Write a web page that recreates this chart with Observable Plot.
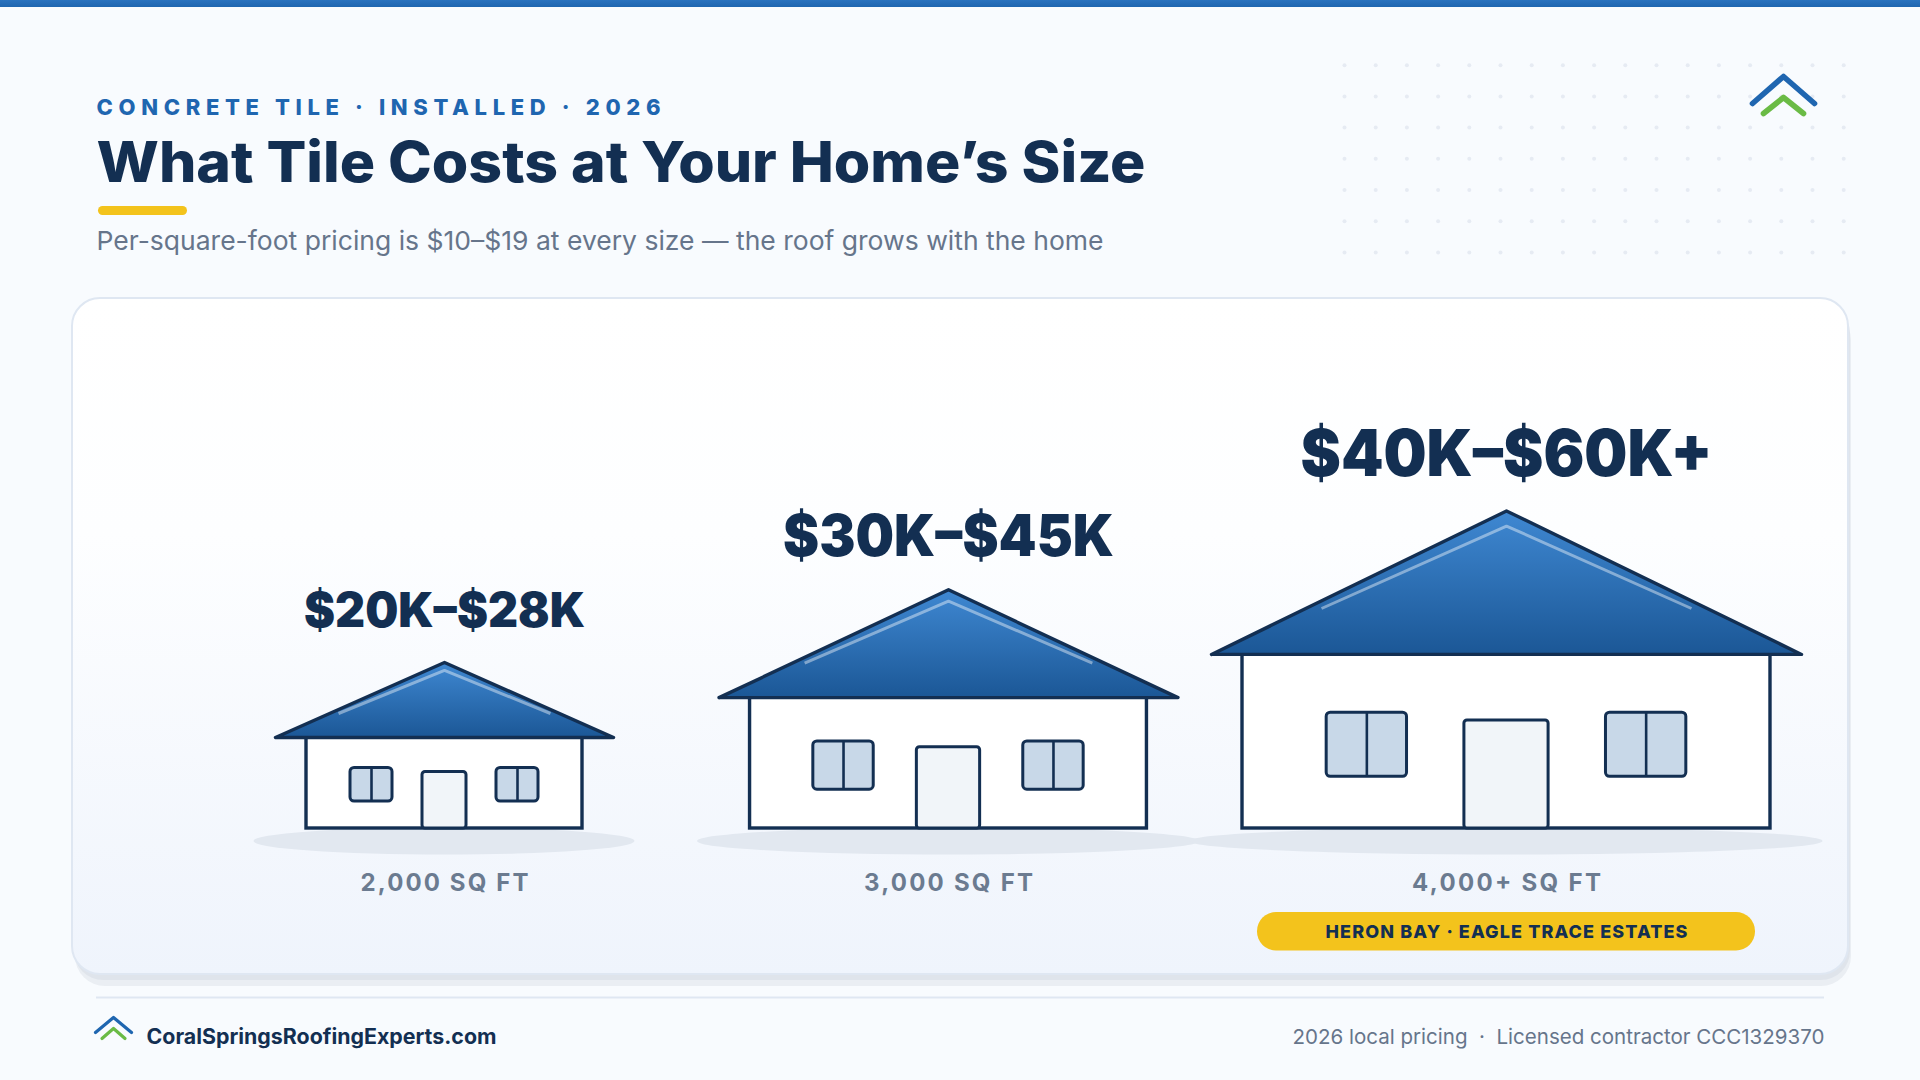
<!DOCTYPE html>
<html>
<head>
<meta charset="utf-8">
<script src="https://cdn.jsdelivr.net/npm/d3@7"></script>
<script src="https://cdn.jsdelivr.net/npm/@observablehq/plot@0.6"></script>
<style>html,body{margin:0;padding:0;background:#f8fbfe;overflow:hidden}svg{display:block}</style>
</head>
<body>
<div id="chart"></div>
<script>
// ---- Chart content ----
const sqft = [2000, 3000, 4000];
const priceLabels = ["$20K–$28K", "$30K–$45K", "$40K–$60K+"];
const sizeLabels = ["2,000 SQ FT", "3,000 SQ FT", "4,000+ SQ FT"];
const eyebrow = "CONCRETE TILE · INSTALLED · 2026";
const title = "What Tile Costs at Your Home’s Size";
const subtitle = "Per-square-foot pricing is $10–$19 at every size — the roof grows with the home";
const pillText = "HERON BAY · EAGLE TRACE ESTATES";
const footerSite = "CoralSpringsRoofingExperts.com";
const footerNote = "2026 local pricing  ·  Licensed contractor CCC1329370";

// ---- Layout and style (kept apart from the content) ----
const FONT = "Inter, sans-serif";
const NAVY = "#132f52", BLUE = "#1f66b0", GREEN = "#6abb45", GOLD = "#f3c31c", GREY = "#66758b";
const houseScale = d3.scaleLinear(sqft, [1, 1.438, 1.913]);
const houseCenter = d3.scaleLinear(sqft, [444, 948, 1506]);
const GROUND = 828;
const priceStyle = [
  {size: 48, base: 626, len: 281},
  {size: 58, base: 555.5, len: 331},
  {size: 64, base: 475, len: 412}
];
const sizeLabelLen = [168, 169, 189];

const houses = sqft.map((v, i) => {
  const s = houseScale(v), cx = houseCenter(v);
  const eave = GROUND - 91 * s, apex = eave - 75 * s, half = 138 * s, over = half + 31;
  return {i, s, cx, eave, apex, half, over,
    hx: over * 0.627, hTop: apex + 75 * s * 0.105, hBot: apex + 75 * s * 0.68};
});
const walls = houses.map(h => ({x1: h.cx - h.half, x2: h.cx + h.half, y1: h.eave, y2: GROUND}));
const doors = houses.map(h => ({x1: h.cx - 22 * h.s, x2: h.cx + 22 * h.s, y1: GROUND - 56.5 * h.s, y2: GROUND}));
const windows = houses.flatMap(h => [-94, 52].map(o => ({
  x1: h.cx + o * h.s, x2: h.cx + (o + 42) * h.s, y1: GROUND - 60.5 * h.s, y2: GROUND - 27 * h.s
})));
const mullions = windows.flatMap((w, i) => [
  {k: i, x: (w.x1 + w.x2) / 2, y: w.y1}, {k: i, x: (w.x1 + w.x2) / 2, y: w.y2}
]);
const roofs = houses.flatMap(h => [
  {k: h.i, x: h.cx - h.over, y: h.eave}, {k: h.i, x: h.cx, y: h.apex},
  {k: h.i, x: h.cx + h.over, y: h.eave}, {k: h.i, x: h.cx - h.over, y: h.eave}
]);
const highlights = houses.flatMap(h => [
  {k: h.i, x: h.cx - h.hx, y: h.hBot}, {k: h.i, x: h.cx, y: h.hTop}, {k: h.i, x: h.cx + h.hx, y: h.hBot}
]);
const grounds = houses.map(h => ({x1: h.cx - h.half - 52.5, x2: h.cx + h.half + 52.5, y1: 827.5, y2: 854.5}));
const gridDots = d3.cross(d3.range(17), d3.range(7)).map(([a, b]) => ({x: 1344 + a * 31.2, y: 64.7 + b * 31.2}));

function chevron(cx, top, halfW, drop) {
  return [{x: cx - halfW, y: top + drop}, {x: cx, y: top}, {x: cx + halfW, y: top + drop}];
}
function gradient(defs, id, stops) {
  const g = defs.append("linearGradient").attr("id", id).attr("x1", 0).attr("x2", 0).attr("y1", 0).attr("y2", 1);
  stops.forEach(([o, c]) => g.append("stop").attr("offset", o).attr("stop-color", c));
}
const defsMark = () => {
  const defs = d3.create("svg:defs");
  gradient(defs, "roofG", [[0, "#3f88d2"], [1, "#1b5796"]]);
  gradient(defs, "cardG", [[0, "#ffffff"], [0.35, "#fdfeff"], [1, "#eff4fc"]]);
  gradient(defs, "barG", [[0, "#2a73bf"], [1, "#1f66b0"]]);
  return defs.node();
};
// Plain text mark; the fitted length keeps each line the width it has in the picture.
function label(text, x, y, o) {
  const {len, adjust = "spacingAndGlyphs", textAnchor = "start", ...rest} = o;
  return Plot.text([{text, x, y}], {
    x: "x", y: "y", text: "text", lineAnchor: "bottom", fontFamily: FONT, textAnchor,
    render: (i, s, v, d, c, next) => {
      const g = next(i, s, v, d, c);
      d3.select(g).selectAll("text").attr("textLength", len).attr("lengthAdjust", adjust).style("white-space", "pre");
      return g;
    },
    ...rest
  });
}
const box = {x1: "x1", x2: "x2", y1: "y1", y2: "y2"};

const plot = Plot.plot({
  width: 1920, height: 1080, margin: 0,
  x: {domain: [0, 1920], range: [0, 1920], axis: null},
  y: {domain: [0, 1080], range: [0, 1080], axis: null},
  style: {background: "transparent"},
  marks: [
    defsMark,
    Plot.rect([{x1: 0, x2: 1920, y1: 0, y2: 1080}], {...box, fill: "#f8fbfe"}),
    Plot.rect([{x1: 0, x2: 1920, y1: 0, y2: 7}], {...box, fill: "url(#barG)"}),
    Plot.dot(gridDots, {x: "x", y: "y", r: 2, fill: "#e6ebf3", stroke: "none"}),
    // logo, top right
    Plot.line(chevron(1783, 76, 31, 27), {x: "x", y: "y", stroke: BLUE, strokeWidth: 5.6}),
    Plot.line(chevron(1783, 97, 20, 16), {x: "x", y: "y", stroke: GREEN, strokeWidth: 5.6}),
    // header
    label(eyebrow, 96, 114, {fill: BLUE, fontSize: 22, fontWeight: 800, len: 564, adjust: "spacing"}),
    label(title, 96, 181, {fill: NAVY, fontSize: 56, fontWeight: 800, len: 1049}),
    Plot.rect([{x1: 98, x2: 187, y1: 206, y2: 215}], {...box, fill: GOLD, rx: 4.5}),
    label(subtitle, 96, 249, {fill: GREY, fontSize: 26, fontWeight: 400, len: 1007}),
    // card
    Plot.rect([{x1: 75, x2: 1851, y1: 310, y2: 986}], {...box, fill: "#eaeef3", rx: 30}),
    Plot.rect([{x1: 74, x2: 1850, y1: 304, y2: 980}], {...box, fill: "#dfe4eb", rx: 29}),
    Plot.rect([{x1: 72, x2: 1848, y1: 298, y2: 974}], {...box, fill: "url(#cardG)", stroke: "#dfe7f2", strokeWidth: 2, rx: 28}),
    // houses
    ...grounds.map(g => Plot.rect([g], {...box, fill: "#e2e8f0", rx: (g.x2 - g.x1) / 2, ry: 13.5})),
    Plot.rect(walls, {...box, fill: "#ffffff", stroke: NAVY, strokeWidth: 3.4}),
    Plot.rect(windows, {...box, fill: "#c8d8e8", stroke: NAVY, strokeWidth: 3, rx: 4}),
    Plot.line(mullions, {x: "x", y: "y", z: "k", stroke: NAVY, strokeWidth: 2.6, strokeLinecap: "butt"}),
    Plot.rect(doors, {...box, fill: "#f1f5f9", stroke: NAVY, strokeWidth: 3, rx: 3}),
    Plot.line(roofs, {x: "x", y: "y", z: "k", fill: "url(#roofG)", stroke: NAVY, strokeWidth: 3.4}),
    Plot.line(highlights, {x: "x", y: "y", z: "k", stroke: "#ffffff", strokeOpacity: 0.42, strokeWidth: 3, strokeLinecap: "butt", strokeLinejoin: "miter"}),
    // labels
    ...houses.map((h, i) => label(priceLabels[i], h.cx, priceStyle[i].base, {
      fill: NAVY, fontSize: priceStyle[i].size, fontWeight: 900, textAnchor: "middle", len: priceStyle[i].len})),
    ...houses.map((h, i) => label(sizeLabels[i], h.cx, 890, {
      fill: "#6b7b90", fontSize: 24, fontWeight: 700, textAnchor: "middle", len: sizeLabelLen[i], adjust: "spacing"})),
    Plot.rect([{x1: 1257, x2: 1755, y1: 912, y2: 950.5}], {...box, fill: GOLD, rx: 19}),
    label(pillText, 1506, 937.5, {fill: NAVY, fontSize: 18, fontWeight: 800, textAnchor: "middle", len: 362, adjust: "spacing"}),
    // footer
    Plot.ruleY([997], {x1: 96, x2: 1824, stroke: "#dfe7f2", strokeWidth: 2}),
    Plot.line(chevron(113, 1017, 18, 15), {x: "x", y: "y", stroke: BLUE, strokeWidth: 3.2}),
    Plot.line(chevron(113, 1028, 11.5, 10), {x: "x", y: "y", stroke: GREEN, strokeWidth: 3.2}),
    label(footerSite, 146, 1043, {fill: NAVY, fontSize: 21, fontWeight: 700, len: 350}),
    label(footerNote, 1824, 1043, {fill: GREY, fontSize: 20.5, fontWeight: 400, textAnchor: "end", len: 532})
  ]
});
document.getElementById("chart").append(plot);
</script>
</body>
</html>
